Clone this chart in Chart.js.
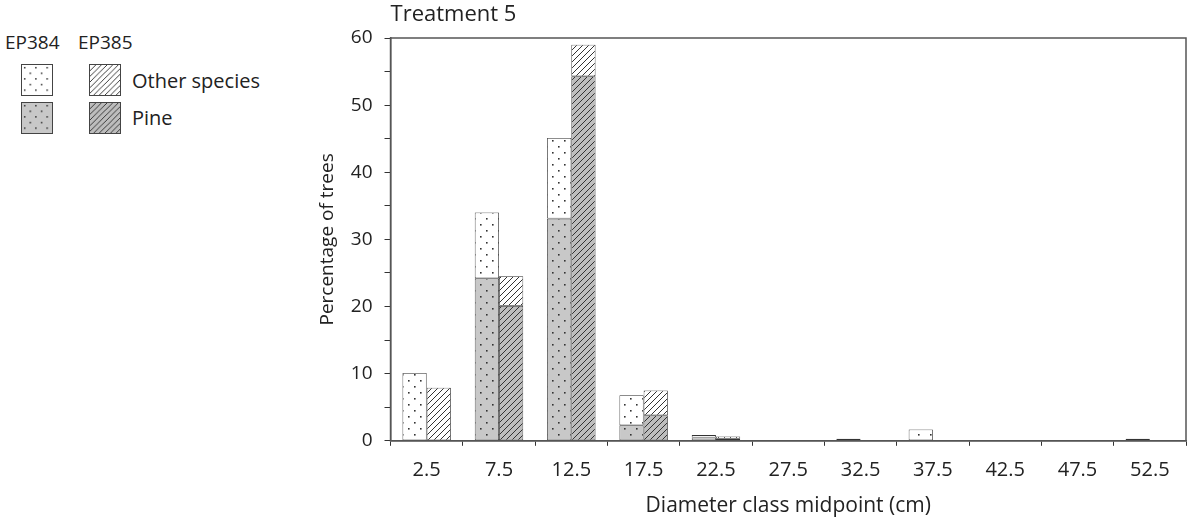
<!DOCTYPE html>
<html>
<head>
<meta charset="utf-8">
<script src="https://cdn.jsdelivr.net/npm/chart.js@4.4.0/dist/chart.umd.min.js"></script>
<style>
  html, body { margin: 0; padding: 0; background: #fff; }
  body { width: 1188px; height: 521px; position: relative; overflow: hidden; font-family: "Open Sans", sans-serif; color: #222; }
  #wrap { position: absolute; left: 316px; top: 0; width: 872px; height: 521px; }
  .lg { position: absolute; font-size: 19px; }
  .sw { position: absolute; width: 32px; height: 32px; box-sizing: border-box; border: 1px solid #444; }
</style>
</head>
<body>
<!-- legend on the left, drawn as html -->
<div class="lg" style="left:5px; top:29px;">EP384</div>
<div class="lg" style="left:78px; top:29px;">EP385</div>
<canvas class="sw" id="sw1" width="32" height="32" style="left:21px; top:64px;"></canvas>
<canvas class="sw" id="sw2" width="32" height="32" style="left:89px; top:64px;"></canvas>
<canvas class="sw" id="sw3" width="32" height="32" style="left:21px; top:102px;"></canvas>
<canvas class="sw" id="sw4" width="32" height="32" style="left:89px; top:102px;"></canvas>
<div class="lg" style="left:132px; top:67px; font-size:20px;">Other species</div>
<div class="lg" style="left:132px; top:104px; font-size:20px;">Pine</div>

<div id="wrap"><canvas id="chart"></canvas></div>

<script>
// diameter classes
const categories = ['2.5', '7.5', '12.5', '17.5', '22.5', '27.5', '32.5', '37.5', '42.5', '47.5', '52.5'];

// percentage of trees, stacked pine + other species
const ep384_pine  = [0, 24.2, 33.1, 2.3, 0.5, 0, 0, 0, 0, 0, 0];
const ep384_other = [10.1, 9.8, 12.0, 4.5, 0.35, 0, 0.3, 1.7, 0, 0, 0.3];
const ep385_pine  = [0, 20.1, 54.3, 3.8, 0.3, 0, 0, 0, 0, 0, 0];
const ep385_other = [7.9, 4.4, 4.7, 3.7, 0.35, 0, 0, 0, 0, 0, 0];

const y_ticks = [0, 10, 20, 30, 40, 50, 60];

const PINE_GRAY = '#c8c8c8';
const PINE_GRAY_2 = '#bdbdbd';

function dotPattern(bg) {
  const c = document.createElement('canvas');
  c.width = 12; c.height = 12;
  const g = c.getContext('2d');
  g.fillStyle = bg;
  g.fillRect(0, 0, 12, 12);
  g.fillStyle = '#333';
  g.fillRect(2, 2, 1.6, 1.6);
  g.fillRect(8, 8, 1.6, 1.6);
  return c;
}

function hatchPattern(bg) {
  const c = document.createElement('canvas');
  c.width = 6; c.height = 6;
  const g = c.getContext('2d');
  g.fillStyle = bg;
  g.fillRect(0, 0, 6, 6);
  g.strokeStyle = '#333';
  g.lineWidth = 1;
  g.beginPath();
  g.moveTo(-1, 7); g.lineTo(7, -1);
  g.moveTo(-4, 4); g.lineTo(4, -4);
  g.moveTo(2, 10); g.lineTo(10, 2);
  g.stroke();
  return c;
}

const tiles = {
  dotWhite: dotPattern('#ffffff'),
  dotGray: dotPattern(PINE_GRAY),
  hatchWhite: hatchPattern('#ffffff'),
  hatchGray: hatchPattern(PINE_GRAY_2),
};

// legend swatches
[['sw1', tiles.dotWhite], ['sw2', tiles.hatchWhite], ['sw3', tiles.dotGray], ['sw4', tiles.hatchGray]].forEach(([id, tile]) => {
  const cv = document.getElementById(id);
  const g = cv.getContext('2d');
  g.fillStyle = g.createPattern(tile, 'repeat');
  g.fillRect(0, 0, 32, 32);
});

const ctx = document.getElementById('chart');
const c2d = ctx.getContext('2d');
const pat = (tile) => c2d.createPattern(tile, 'repeat');

// zero values are left out so nothing is drawn for them
const noZero = (arr) => arr.map(v => (v === 0 ? null : v));

// title at the left of the plot area + frame around it
const framePlugin = {
  id: 'frame',
  afterDraw(chart) {
    const a = chart.chartArea;
    const g = chart.ctx;
    g.save();
    g.strokeStyle = '#555';
    g.lineWidth = 1.5;
    g.strokeRect(a.left, a.top, a.right - a.left, a.bottom - a.top);
    g.fillStyle = '#222';
    g.font = '22px "Open Sans", sans-serif';
    g.textBaseline = 'middle';
    g.textAlign = 'left';
    g.fillText('Treatment 5', a.left, 15);
    g.restore();
  }
};

const barCommon = {
  borderColor: '#333',
  borderWidth: 0.8,
  borderSkipped: false,
  barPercentage: 1.0,
  categoryPercentage: 0.67,
};

new Chart(ctx, {
  type: 'bar',
  plugins: [framePlugin],
  data: {
    labels: categories,
    datasets: [
      Object.assign({ label: 'EP384 Pine', data: noZero(ep384_pine), stack: 'ep384', backgroundColor: pat(tiles.dotGray) }, barCommon),
      Object.assign({ label: 'EP384 Other species', data: noZero(ep384_other), stack: 'ep384', backgroundColor: pat(tiles.dotWhite) }, barCommon),
      Object.assign({ label: 'EP385 Pine', data: noZero(ep385_pine), stack: 'ep385', backgroundColor: pat(tiles.hatchGray) }, barCommon),
      Object.assign({ label: 'EP385 Other species', data: noZero(ep385_other), stack: 'ep385', backgroundColor: pat(tiles.hatchWhite) }, barCommon),
    ]
  },
  options: {
    responsive: true,
    maintainAspectRatio: false,
    animation: false,
    layout: {
      padding: { top: 38, right: 2, left: 0, bottom: 2 }
    },
    plugins: {
      legend: { display: false },
      tooltip: { enabled: false },
    },
    scales: {
      x: {
        stacked: true,
        grid: {
          display: true,
          drawOnChartArea: false,
          offset: true,
          tickLength: 5,
          color: '#333',
        },
        border: { display: true, color: '#555', width: 1.5 },
        ticks: {
          color: '#222',
          font: { family: '"Open Sans", sans-serif', size: 20 },
          padding: 12,
          maxRotation: 0,
        },
        title: {
          display: true,
          text: 'Diameter class midpoint (cm)',
          color: '#222',
          font: { family: '"Open Sans", sans-serif', size: 21 },
          padding: { top: 0, bottom: 0 },
        }
      },
      y: {
        stacked: true,
        min: 0,
        max: 60,
        ticks: {
          stepSize: 5,
          autoSkip: false,
          color: '#222',
          padding: 12,
          font: { family: '"Open Sans", sans-serif', size: 19 },
          callback: function (value) {
            return y_ticks.includes(value) ? String(value) : '';
          }
        },
        grid: {
          display: true,
          drawOnChartArea: false,
          tickLength: 6,
          color: '#333',
        },
        border: { display: true, color: '#555', width: 1.5 },
        title: {
          display: true,
          text: 'Percentage of trees',
          color: '#222',
          font: { family: '"Open Sans", sans-serif', size: 19 },
          padding: { top: 0, bottom: 0 },
        }
      }
    }
  }
});
</script>
</body>
</html>
